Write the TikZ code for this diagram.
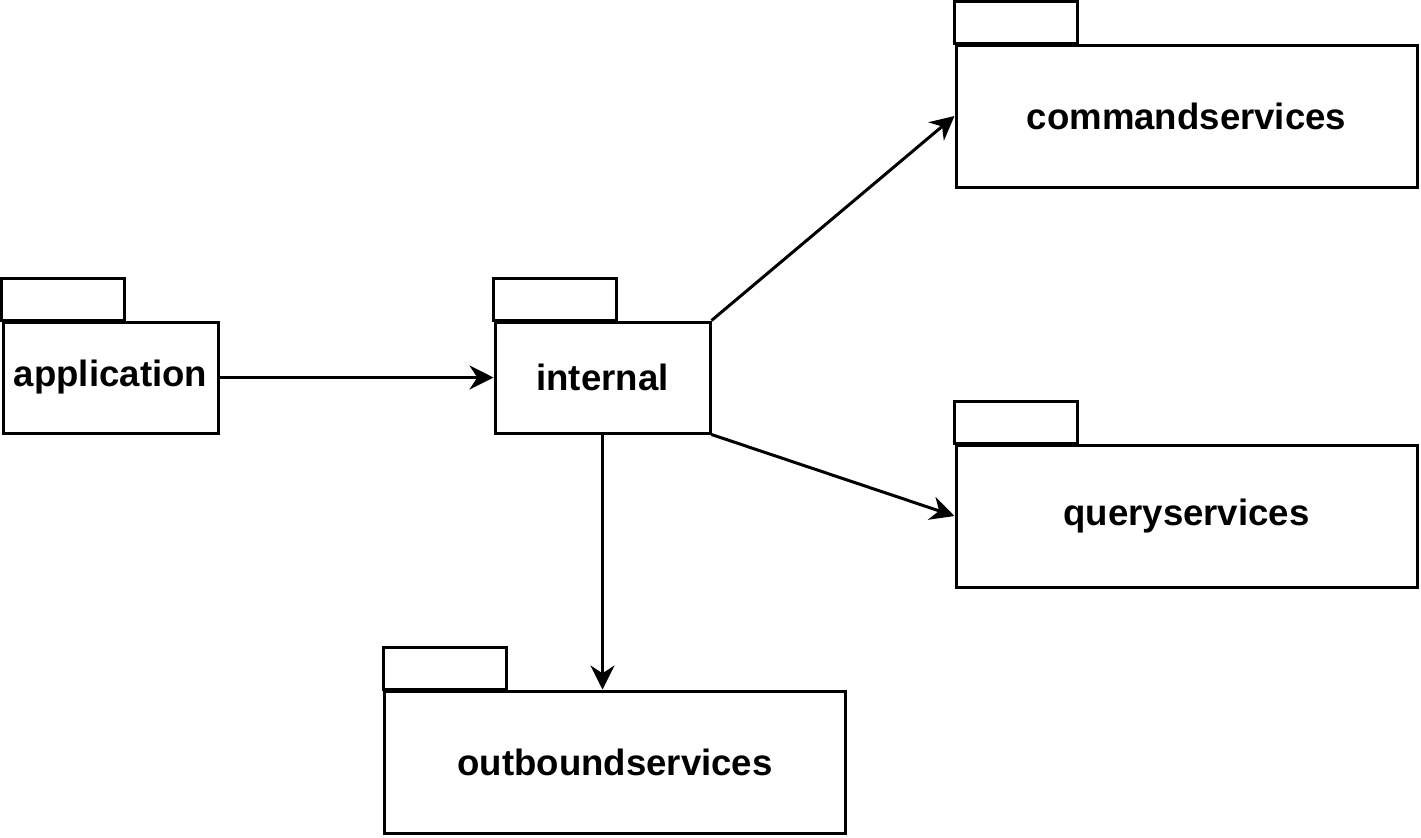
\documentclass[tikz,border=0pt]{standalone}
\usepackage{fontspec}
\setmainfont{Liberation Sans}
\usetikzlibrary{arrows.meta}

\begin{document}
\begin{tikzpicture}[x=0.5pt,y=-0.5pt,line width=1.5pt,
	pkg/.style={draw,rectangle,inner sep=0pt,font=\fontsize{18.3}{21}\selectfont\bfseries},
	small/.style={pkg,minimum width=107.5pt,minimum height=55.5pt},
	big/.style={pkg,minimum width=230.5pt,minimum height=71pt},
	dep/.style={-{Stealth[length=12pt,width=12pt]}}]
	\useasboundingbox (0,0) rectangle (1421,837);
	\node[small] (app) at (110.5,377.5) {application};
	\node[small] (internal) at (602.5,377.5) {internal};
	\node[big] (cmd) at (1186.5,116) {commandservices};
	\node[big] (query) at (1186.5,516) {queryservices};
	\node[big] (outbound) at (615,762) {outboundservices};
	% tabs
	\foreach \p in {app,internal,cmd,query,outbound}
		\draw (\p.north west) rectangle ++(123,-42);
	\draw[dep] (app) -- (internal);
	\draw[dep] (internal.north east) -- (cmd.west);
	\draw[dep] (internal.south east) -- (query.west);
	\draw[dep] (internal.south) -- (internal.south |- outbound.north);
\end{tikzpicture}
\end{document}
